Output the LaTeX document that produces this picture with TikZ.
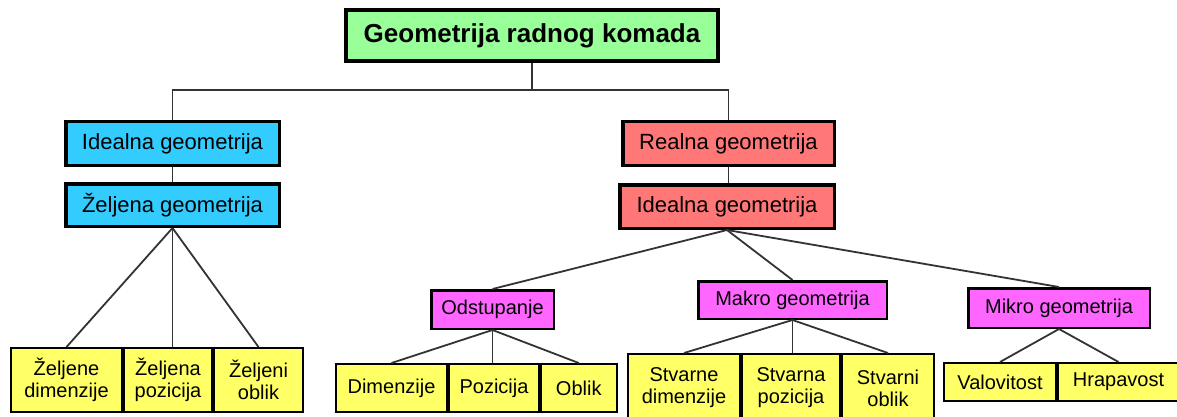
\documentclass[tikz,border=0pt]{standalone}
\usepackage{fontspec}
\setmainfont{Liberation Sans}
\usepackage{tikz}
\definecolor{topgreen}{HTML}{99FF99}
\definecolor{idealblue}{HTML}{33CCFF}
\definecolor{realred}{HTML}{FF7777}
\definecolor{subpink}{HTML}{FF66FF}
\definecolor{leafyellow}{HTML}{FFFF66}
\tikzset{
  box/.style={draw=black, inner sep=0pt, align=center},
  topbox/.style={box, fill=topgreen, line width=4pt, font=\fontsize{26}{28}\selectfont\bfseries},
  bluebox/.style={box, fill=idealblue, line width=3.5pt, font=\fontsize{22}{24}\selectfont},
  redbox/.style={box, fill=realred, line width=3.5pt, font=\fontsize{22}{24}\selectfont},
  pinkbox/.style={box, fill=subpink, line width=2.5pt, font=\fontsize{20}{22}\selectfont},
  leaf/.style={box, fill=leafyellow, line width=2pt, font=\fontsize{20}{22}\selectfont},
  conn/.style={draw=black!80, line width=1.8pt}
}

\begin{document}
\begin{tikzpicture}[x=1pt, y=-1pt]
		%%%%% START %%%%%
		\clip (0, 0) rectangle (1177, 417);
		\fill[white] (0, 0) rectangle (1177, 417);
		
		\node[topbox, minimum width=372pt, minimum height=51pt] (top) at (532, 35.5) {Geometrija radnog komada};
		
		\node[bluebox, minimum width=213.5pt, minimum height=43.5pt] (idl) at (172.5, 143.5) {Idealna geometrija};
		\node[bluebox, minimum width=213.5pt, minimum height=42.5pt] (zel) at (172.5, 205) {Željena geometrija};
		
		\node[redbox, minimum width=211.5pt, minimum height=43.5pt] (rl) at (728.5, 143.5) {Realna geometrija};
		\node[redbox, minimum width=214.5pt, minimum height=43.5pt] (idr) at (727, 206.5) {Idealna geometrija};
		
		\node[pinkbox, minimum width=122.5pt, minimum height=38.5pt] (odst) at (492.5, 309.5) {Odstupanje};
		\node[pinkbox, minimum width=188.5pt, minimum height=37.5pt] (makro) at (792.5, 300) {Makro geometrija};
		\node[pinkbox, minimum width=181.5pt, minimum height=39.5pt] (mikro) at (1059, 308) {Mikro geometrija};
		
		\node[leaf, minimum width=111pt, minimum height=64pt] (zd) at (66.5, 380) {Željene\\dimenzije};
		\node[leaf, minimum width=88pt, minimum height=64pt] (zp) at (168, 380) {Željena\\pozicija};
		\node[leaf, minimum width=89pt, minimum height=64pt] (zo) at (258.5, 380) {Željeni\\oblik};
		
		\node[leaf, minimum width=111pt, minimum height=48pt] (dim) at (391.5, 388) {Dimenzije};
		\node[leaf, minimum width=90pt, minimum height=48pt] (poz) at (494, 388) {Pozicija};
		\node[leaf, minimum width=75.5pt, minimum height=48pt] (obl) at (578.75, 388) {Oblik};
		
		\node[leaf, minimum width=112pt, minimum height=68pt] (stvd) at (684, 388) {Stvarne\\dimenzije};
		\node[leaf, minimum width=98pt, minimum height=68pt] (stvp) at (791, 388) {Stvarna\\pozicija};
		\node[leaf, minimum width=92pt, minimum height=68pt] (stvo) at (888, 388) {Stvarni\\oblik};
		
		\node[leaf, minimum width=112pt, minimum height=38pt] (val) at (1000, 382) {Valovitost};
		\node[leaf, minimum width=121pt, minimum height=38pt] (hrap) at (1118.5, 382) {Hrapavost};
		
		% links
		\coordinate (split) at (532, 90);
		\draw[conn] (top.south) -- (split);
		\draw[conn] (split) -| (idl.north);
		\draw[conn] (split) -| (rl.north);
		\draw[conn] (idl.south) -- (zel.north);
		\draw[conn] (rl.south) -- (rl.south |- idr.north);
		
		\draw[conn] (zel.south) -- (zd.north);
		\draw[conn] (zel.south) -- (zel.south |- zp.north);
		\draw[conn] (zel.south) -- (zo.north);
		
		\draw[conn] (idr.south) -- (odst.north);
		\draw[conn] (idr.south) -- (makro.north);
		\draw[conn] (idr.south) -- (mikro.north);
		
		\draw[conn] (odst.south) -- (dim.north);
		\draw[conn] (odst.south) -- (odst.south |- poz.north);
		\draw[conn] (odst.south) -- (obl.north);
		
		\draw[conn] (makro.south) -- (stvd.north);
		\draw[conn] (makro.south) -- (makro.south |- stvp.north);
		\draw[conn] (makro.south) -- (stvo.north);
		
		\draw[conn] (mikro.south) -- (val.north);
		\draw[conn] (mikro.south) -- (hrap.north);
		%%%%% END %%%%%
\end{tikzpicture}
\end{document}
